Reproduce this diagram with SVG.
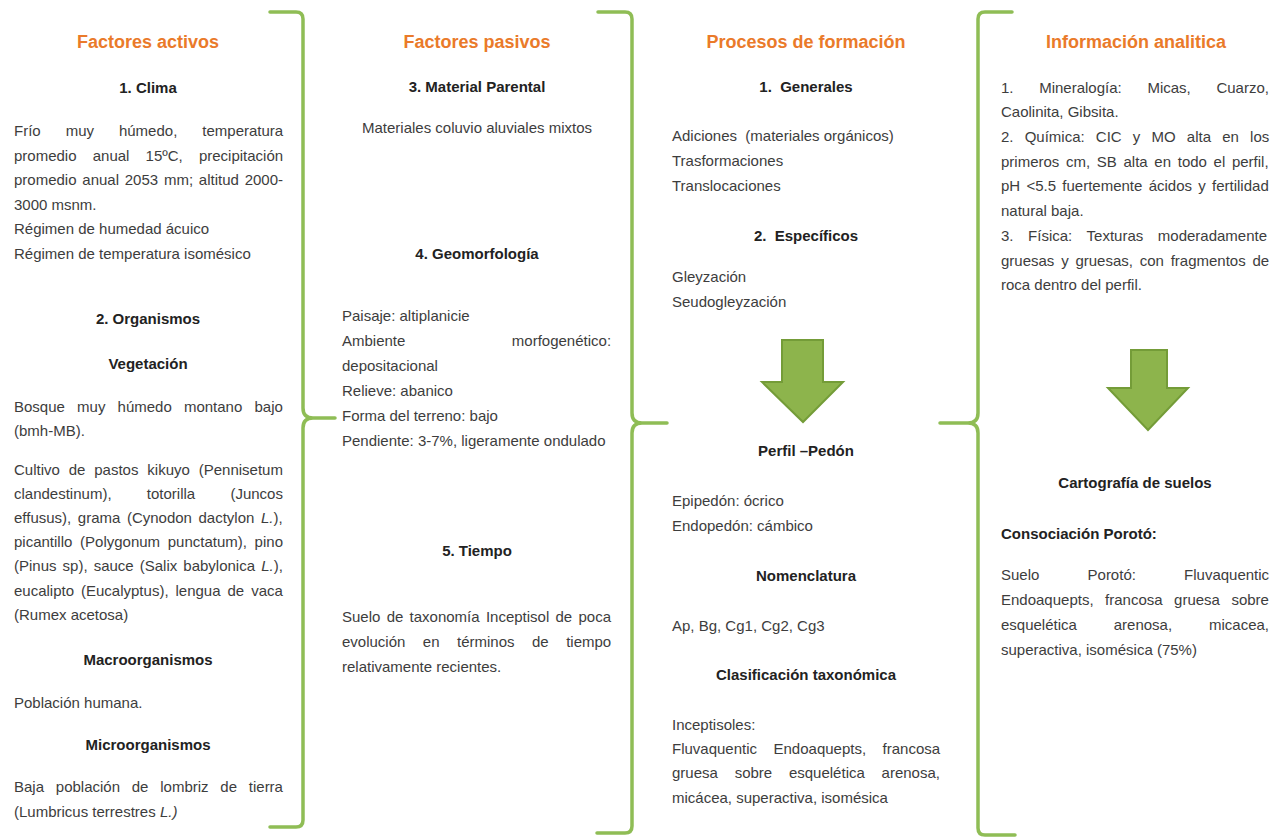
<svg xmlns="http://www.w3.org/2000/svg" width="1282" height="840" viewBox="0 0 1282 840">
<style>
text{font-family:"Liberation Sans",Arial,sans-serif}
.t{font-size:18px;font-weight:bold;fill:#ea7a2a;text-anchor:middle}
.h{font-size:15px;font-weight:bold;fill:#222;text-anchor:middle}
.hl{font-size:15px;font-weight:bold;fill:#222}
.b{font-size:15px;fill:#3d3d3d}
.c{text-anchor:middle}
.i{font-style:italic}
.br{fill:none;stroke:#8fbd55;stroke-width:3.5;stroke-linecap:round;stroke-linejoin:round}
.ar{fill:#8db44c;stroke:#749c38;stroke-width:2;stroke-linejoin:miter}
</style>
<rect width="1282" height="840" fill="#fff"/>

<g id="connectors">
  <path class="br" d="M270,12 H296 Q303,12 303,19 V408 Q303,418 313,418 H335 M313,418 Q303,418 303,428 V820 Q303,827 296,827 H270"/>
  <path class="br" d="M598,12 H625 Q632,12 632,19 V413 Q632,423 642,423 H667 M642,423 Q632,423 632,433 V826 Q632,833 625,833 H597"/>
  <path class="br" d="M1012,12 H985 Q978,12 978,19 V413 Q978,423 968,423 H940 M968,423 Q978,423 978,433 V828 Q978,835 985,835 H1015"/>
  <polygon class="ar" points="782,340 823,340 823,382 843,382 803,422 762,382 782,382"/>
  <polygon class="ar" points="1131,350 1167,350 1167,388 1188,388 1148,430 1108,388 1131,388"/>
</g>

<g id="factores-activos">
  <text class="t" x="148" y="48">Factores activos</text>
  <g id="clima">
    <text class="h" x="148" y="93">1. Clima</text>
    <text class="b" x="14" y="136" word-spacing="20.8">Frío muy húmedo, temperatura</text>
    <text class="b" x="14" y="161" word-spacing="12">promedio anual 15ºC, precipitación</text>
    <text class="b" x="14" y="185" word-spacing="1.6">promedio anual 2053 mm; altitud 2000-</text>
    <text class="b" x="14" y="210">3000 msnm.</text>
    <text class="b" x="14" y="234">Régimen de humedad ácuico</text>
    <text class="b" x="14" y="259">Régimen de temperatura isomésico</text>
  </g>
  <g id="organismos">
    <text class="h" x="148" y="324">2. Organismos</text>
    <text class="h" x="148" y="369">Vegetación</text>
    <text class="b" x="14" y="412" word-spacing="8">Bosque muy húmedo montano bajo</text>
    <text class="b" x="14" y="436">(bmh-MB).</text>
    <text class="b" x="14" y="475" word-spacing="4.7">Cultivo de pastos kikuyo (Pennisetum</text>
    <text class="b" x="14" y="499" word-spacing="31.1">clandestinum), totorilla (Juncos</text>
    <text class="b" x="14" y="523" word-spacing="2.4">effusus), grama (Cynodon dactylon <tspan class="i">L.</tspan>),</text>
    <text class="b" x="14" y="547" word-spacing="3.5">picantillo (Polygonum punctatum), pino</text>
    <text class="b" x="14" y="571" word-spacing="1.9">(Pinus sp), sauce (Salix babylonica <tspan class="i">L.</tspan>),</text>
    <text class="b" x="14" y="596" word-spacing="2.8">eucalipto (Eucalyptus), lengua de vaca</text>
    <text class="b" x="14" y="620">(Rumex acetosa)</text>
  </g>
  <g id="macroorganismos">
    <text class="h" x="148" y="665">Macroorganismos</text>
    <text class="b" x="14" y="708">Población humana.</text>
  </g>
  <g id="microorganismos">
    <text class="h" x="148" y="750">Microorganismos</text>
    <text class="b" x="14" y="792" word-spacing="7.6">Baja población de lombriz de tierra</text>
    <text class="b" x="14" y="817">(Lumbricus terrestres <tspan class="i">L.)</tspan></text>
  </g>
</g>

<g id="factores-pasivos">
  <text class="t" x="477" y="48">Factores pasivos</text>
  <g id="material-parental">
    <text class="h" x="477" y="92">3. Material Parental</text>
    <text class="b c" x="477" y="133">Materiales coluvio aluviales mixtos</text>
  </g>
  <g id="geomorfologia">
    <text class="h" x="477" y="259">4. Geomorfología</text>
    <text class="b" x="342" y="321">Paisaje: altiplanicie</text>
    <text class="b" x="342" y="346" word-spacing="102.3">Ambiente morfogenético:</text>
    <text class="b" x="342" y="371">depositacional</text>
    <text class="b" x="342" y="396">Relieve: abanico</text>
    <text class="b" x="342" y="421">Forma del terreno: bajo</text>
    <text class="b" x="342" y="446">Pendiente: 3-7%, ligeramente ondulado</text>
  </g>
  <g id="tiempo">
    <text class="h" x="477" y="556">5. Tiempo</text>
    <text class="b" x="342" y="622" word-spacing="2.1">Suelo de taxonomía Inceptisol de poca</text>
    <text class="b" x="342" y="647" word-spacing="13.3">evolución en términos de tiempo</text>
    <text class="b" x="342" y="672">relativamente recientes.</text>
  </g>
</g>

<g id="procesos-de-formacion">
  <text class="t" x="806" y="48">Procesos de formación</text>
  <g id="generales">
    <text class="h" x="806" y="92">1.&#160; Generales</text>
    <text class="b" x="672" y="141">Adiciones&#160; (materiales orgánicos)</text>
    <text class="b" x="672" y="166">Trasformaciones</text>
    <text class="b" x="672" y="191">Translocaciones</text>
  </g>
  <g id="especificos">
    <text class="h" x="806" y="241">2.&#160; Específicos</text>
    <text class="b" x="672" y="282">Gleyzación</text>
    <text class="b" x="672" y="307">Seudogleyzación</text>
  </g>
  <g id="perfil-pedon">
    <text class="h" x="806" y="456">Perfil –Pedón</text>
    <text class="b" x="672" y="506">Epipedón: ócrico</text>
    <text class="b" x="672" y="531">Endopedón: cámbico</text>
  </g>
  <g id="nomenclatura">
    <text class="h" x="806" y="581">Nomenclatura</text>
    <text class="b" x="672" y="631">Ap, Bg, Cg1, Cg2, Cg3</text>
  </g>
  <g id="clasificacion">
    <text class="h" x="806" y="680">Clasificación taxonómica</text>
    <text class="b" x="672" y="730">Inceptisoles:</text>
    <text class="b" x="672" y="754" word-spacing="12.3">Fluvaquentic Endoaquepts, francosa</text>
    <text class="b" x="672" y="778" word-spacing="12.6">gruesa sobre esquelética arenosa,</text>
    <text class="b" x="672" y="803">micácea, superactiva, isomésica</text>
  </g>
</g>

<g id="informacion-analitica">
  <text class="t" x="1136" y="48">Información analitica</text>
  <g id="analisis">
    <text class="b" x="1001" y="93" word-spacing="21.5">1. Mineralogía: Micas, Cuarzo,</text>
    <text class="b" x="1001" y="117">Caolinita, Gibsita.</text>
    <text class="b" x="1001" y="142" word-spacing="7">2. Química: CIC y MO alta en los</text>
    <text class="b" x="1001" y="167" word-spacing="2.5">primeros cm, SB alta en todo el perfil,</text>
    <text class="b" x="1001" y="191" word-spacing="2.1">pH &lt;5.5 fuertemente ácidos y fertilidad</text>
    <text class="b" x="1001" y="216">natural baja.</text>
    <text class="b" x="1001" y="241" word-spacing="10.4">3. Física: Texturas moderadamente</text>
    <text class="b" x="1001" y="266" word-spacing="2.6">gruesas y gruesas, con fragmentos de</text>
    <text class="b" x="1001" y="290">roca dentro del perfil.</text>
  </g>
  <g id="cartografia">
    <text class="h" x="1135" y="488">Cartografía de suelos</text>
    <text class="hl" x="1001" y="539">Consociación Porotó:</text>
    <text class="b" x="1001" y="580" word-spacing="44">Suelo Porotó: Fluvaquentic</text>
    <text class="b" x="1001" y="605" word-spacing="7.3">Endoaquepts, francosa gruesa sobre</text>
    <text class="b" x="1001" y="630" word-spacing="32.7">esquelética arenosa, micacea,</text>
    <text class="b" x="1001" y="655">superactiva, isomésica (75%)</text>
  </g>
</g>
</svg>
